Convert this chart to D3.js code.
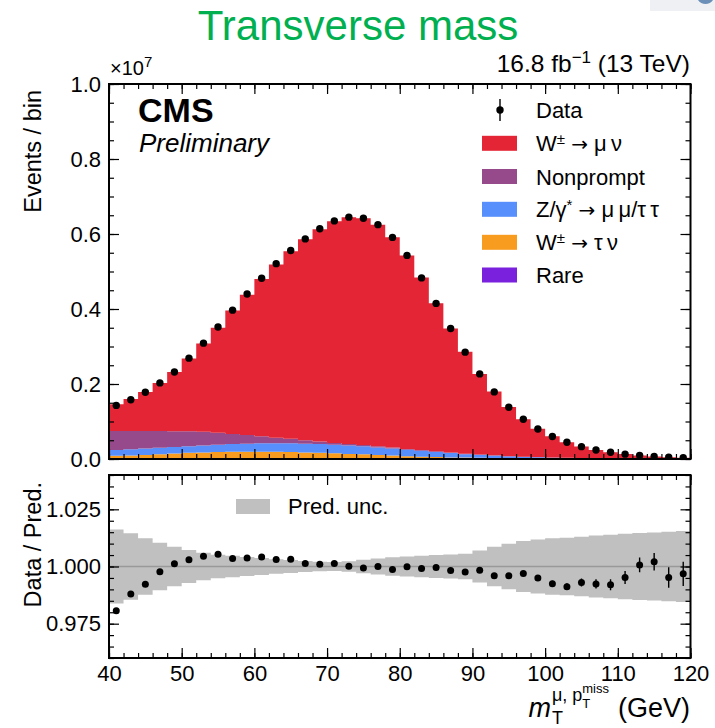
<!DOCTYPE html>
<html><head><meta charset="utf-8">
<script src="https://cdn.jsdelivr.net/npm/d3@7"></script>
<style>
body{margin:0;background:#fff}
svg{display:block}
text{font-family:"Liberation Sans",Arial,Helvetica,sans-serif;fill:#000}
</style>
</head><body>
<svg id="chart" width="715" height="728"></svg>
<script>
// ---------------- DATA ----------------
const binEdges = [40,42,44,46,48,50,52,54,56,58,60,62,64,66,68,70,72,74,76,78,80,82,84,86,88,90,92,94,96,98,100,102,104,106,108,110,112,114,116,118,120];

// Events / bin in units of 1e7
const dataVals = [0.143,0.158,0.178,0.203,0.232,0.269,0.309,0.352,0.397,0.440,0.482,0.521,0.556,0.587,0.614,0.635,0.645,0.642,0.625,0.591,0.543,0.483,0.415,0.348,0.285,0.227,0.179,0.138,0.106,0.080,0.060,0.0445,0.033,0.024,0.018,0.013,0.0095,0.0069,0.0050,0.0036];

const wmunu = [0.071,0.085,0.104,0.128,0.158,0.194,0.235,0.280,0.329,0.374,0.419,0.462,0.500,0.536,0.566,0.591,0.605,0.6045,0.591,0.561,0.516,0.460,0.395,0.331,0.272,0.215,0.170,0.131,0.100,0.0753,0.0565,0.0414,0.0303,0.0218,0.0161,0.0114,0.0080,0.0056,0.0040,0.0027];
const nonprompt = [0.051,0.049,0.047,0.045,0.042,0.040,0.037,0.032,0.027,0.023,0.019,0.015,0.012,0.009,0.007,0.005,0.004,0.0035,0.003,0.0025,0.002,0.0018,0.0015,0.0013,0.0011,0.001,0.0009,0.0008,0.0007,0.0006,0.0005,0.0005,0.0004,0.0004,0.0003,0.0003,0.0003,0.0002,0.0002,0.0002];
const zgamma = [0.0154,0.0164,0.0174,0.0174,0.0174,0.0174,0.0184,0.0194,0.0204,0.0214,0.0224,0.0224,0.0234,0.0235,0.0235,0.0225,0.0225,0.0216,0.0206,0.0186,0.0177,0.0157,0.0137,0.0118,0.0093,0.0078,0.0063,0.0049,0.0039,0.0032,0.0024,0.0021,0.0017,0.0013,0.0011,0.0009,0.0008,0.0006,0.0005,0.0004];
const wtaunu = [0.008,0.009,0.010,0.012,0.014,0.016,0.017,0.018,0.019,0.019,0.019,0.019,0.018,0.017,0.016,0.015,0.013,0.012,0.010,0.009,0.007,0.006,0.005,0.004,0.0035,0.003,0.0025,0.002,0.0015,0.0012,0.001,0.0008,0.0007,0.0006,0.0005,0.0004,0.0003,0.0003,0.0002,0.0002];
const rare = [0.0006,0.0006,0.0006,0.0006,0.0006,0.0006,0.0006,0.0006,0.0006,0.0006,0.0006,0.0006,0.0006,0.0005,0.0005,0.0005,0.0005,0.0004,0.0004,0.0004,0.0003,0.0003,0.0003,0.0002,0.0002,0.0002,0.0002,0.0001,0.0001,0.0001,0.0001,0.0001,0.0001,0.0001,0.0001,0.0001,0.0001,0.0001,0.0001,0.0001];

// Ratio panel
const ratioVals = [0.9807,0.9880,0.9922,0.9977,1.0012,1.0029,1.0045,1.0054,1.0035,1.0037,1.0041,1.0031,1.0032,1.0013,1.0010,1.0013,1.0001,0.9993,1.0000,0.9987,0.9999,0.9991,0.9996,0.9982,0.9976,0.9984,0.9960,0.9960,0.9969,0.9950,0.9925,0.9912,0.9930,0.9924,0.9920,0.9952,1.0007,1.0021,0.9952,0.9968];
const ratioErr = [0.0008,0.0008,0.00075,0.0007,0.00066,0.0006,0.00057,0.00053,0.0005,0.00048,0.00046,0.00044,0.00042,0.00041,0.0004,0.0004,0.00039,0.00039,0.0004,0.00041,0.00043,0.00046,0.00049,0.00054,0.00059,0.00066,0.00075,0.00085,0.00097,0.0011,0.0013,0.0015,0.0017,0.002,0.0024,0.0028,0.0032,0.0038,0.0045,0.0053];
const predUnc = [0.0162,0.0145,0.0124,0.0104,0.0086,0.0072,0.0060,0.0051,0.0047,0.0042,0.0037,0.0032,0.0028,0.0024,0.0021,0.0020,0.0023,0.0029,0.0035,0.0040,0.0044,0.0047,0.0050,0.0053,0.0056,0.0070,0.0086,0.0099,0.0111,0.0118,0.0123,0.0126,0.0130,0.0135,0.0139,0.0143,0.0146,0.0149,0.0152,0.0155];

// Tick labels
const xTicks = [40,50,60,70,80,90,100,110,120];
const mainYTicks = [0.0,0.2,0.4,0.6,0.8,1.0];
const ratioYTicks = [0.975,1.000,1.025];

// Legend (parts: [text, kind]) kind: 0 normal, 1 superscript, 2 arrow
const procKeys = ["rare","wtaunu","zgamma","nonprompt","wmunu"];
const procColors = {wmunu:"#e42536",nonprompt:"#964a8b",zgamma:"#5790fc",wtaunu:"#f89c20",rare:"#7a21dd"};
const legendEntries = [
  {key:"wmunu", parts:[["W",0],["\u00B1",1],[" ",0],["\u2192",2],[" \u03BC\u2009\u03BD",0]]},
  {key:"nonprompt", parts:[["Nonprompt",0]]},
  {key:"zgamma", parts:[["Z/\u03B3",0],["*",1],[" ",0],["\u2192",2],[" \u03BC\u2009\u03BC/\u03C4\u2009\u03C4",0]]},
  {key:"wtaunu", parts:[["W",0],["\u00B1",1],[" ",0],["\u2192",2],[" \u03C4\u2009\u03BD",0]]},
  {key:"rare", parts:[["Rare",0]]}
];

// ---------------- LAYOUT ----------------
const svg = d3.select("#chart");
const L = 109, R = 690.5;
const mainTop = 84, mainBot = 459, ratTop = 475, ratBot = 658;

const x = d3.scaleLinear().domain([40,120]).range([L,R]);
const y = d3.scaleLinear().domain([0,1]).range([mainBot,mainTop]);
const yr = d3.scaleLinear().domain([0.96,1.04]).range([ratBot,ratTop]);

// small screenshot artifact top-right
svg.append("rect").attr("x",650).attr("y",0).attr("width",65).attr("height",11).attr("fill","#eef0f3");
svg.append("path").attr("d","M698,0 A9,9 0 0,0 713,0 Z").attr("fill","#6c8fb8");

// Title
svg.append("text").attr("x",358).attr("y",40).attr("text-anchor","middle")
  .style("font-size","42px").style("fill","#00b050").text("Transverse mass");

// clip paths
const defs = svg.append("defs");
defs.append("clipPath").attr("id","clipMain").append("rect")
  .attr("x",L).attr("y",mainTop).attr("width",R-L).attr("height",mainBot-mainTop);
defs.append("clipPath").attr("id","clipRat").append("rect")
  .attr("x",L).attr("y",ratTop).attr("width",R-L).attr("height",ratBot-ratTop);

// ---------------- MAIN PANEL ----------------
const rows = binEdges.map((lo,i) => {
  const j = Math.min(i, dataVals.length-1);
  return {lo, rare:rare[j], wtaunu:wtaunu[j], zgamma:zgamma[j], nonprompt:nonprompt[j], wmunu:wmunu[j]};
});
const stacked = d3.stack().keys(procKeys)(rows);
const area = d3.area()
  .x(d => x(d.data.lo)).y0(d => y(d[0])).y1(d => y(d[1]))
  .curve(d3.curveStepAfter);

const gMain = svg.append("g").attr("clip-path","url(#clipMain)");
gMain.selectAll("path.layer").data(stacked).join("path")
  .attr("class","layer").attr("d",area).attr("fill",d => procColors[d.key]);

const centers = binEdges.slice(0,-1).map((lo,i) => (lo + binEdges[i+1]) / 2);

gMain.selectAll("circle.pt").data(dataVals).join("circle")
  .attr("class","pt").attr("cx",(d,i)=>x(centers[i])).attr("cy",d=>y(d)).attr("r",3.7).attr("fill","#000");

// ---------------- RATIO PANEL ----------------
const bandRows = binEdges.map((lo,i)=>({lo, u: predUnc[Math.min(i,predUnc.length-1)]}));
const band = d3.area().x(d=>x(d.lo)).y0(d=>yr(1-d.u)).y1(d=>yr(1+d.u)).curve(d3.curveStepAfter);
const gRat = svg.append("g").attr("clip-path","url(#clipRat)");
gRat.append("path").datum(bandRows).attr("d",band).attr("fill","#c0c0c0");
gRat.append("line").attr("x1",L).attr("x2",R).attr("y1",yr(1)).attr("y2",yr(1))
  .attr("stroke","#999").attr("stroke-width",1.5);
gRat.selectAll("line.err").data(ratioVals).join("line").attr("class","err")
  .attr("x1",(d,i)=>x(centers[i])).attr("x2",(d,i)=>x(centers[i]))
  .attr("y1",(d,i)=>yr(d-ratioErr[i])).attr("y2",(d,i)=>yr(d+ratioErr[i]))
  .attr("stroke","#000").attr("stroke-width",1.4);
gRat.selectAll("circle.rpt").data(ratioVals).join("circle").attr("class","rpt")
  .attr("cx",(d,i)=>x(centers[i])).attr("cy",d=>yr(d)).attr("r",3.5).attr("fill","#000");

// ---------------- AXES ----------------
const xMinor = d3.range(40,121,2);
function styleAxis(g){
  g.select(".domain").remove();
  g.selectAll(".tick line").attr("stroke","#000").attr("stroke-width",1.2);
  g.selectAll("text").style("font-size","22px").style("font-family",'"Liberation Sans",Arial,sans-serif');
}
function drawFrame(top, bot, ys, yMajor, yMinor, yFmt, xLabels){
  svg.append("g").attr("transform",`translate(0,${bot})`)
    .call(d3.axisBottom(x).tickValues(xTicks).tickSize(-10).tickPadding(7)
      .tickFormat(xLabels?d3.format("d"):() => ""))
    .call(styleAxis);
  svg.append("g").attr("transform",`translate(0,${bot})`)
    .call(d3.axisBottom(x).tickValues(xMinor).tickSize(-5).tickFormat(()=>"")).call(styleAxis);
  svg.append("g").attr("transform",`translate(0,${top})`)
    .call(d3.axisTop(x).tickValues(xTicks).tickSize(-10).tickFormat(()=>"")).call(styleAxis);
  svg.append("g").attr("transform",`translate(0,${top})`)
    .call(d3.axisTop(x).tickValues(xMinor).tickSize(-5).tickFormat(()=>"")).call(styleAxis);
  svg.append("g").attr("transform",`translate(${L},0)`)
    .call(d3.axisLeft(ys).tickValues(yMajor).tickSize(-10).tickPadding(8).tickFormat(yFmt)).call(styleAxis);
  svg.append("g").attr("transform",`translate(${L},0)`)
    .call(d3.axisLeft(ys).tickValues(yMinor).tickSize(-5).tickFormat(()=>"")).call(styleAxis);
  svg.append("g").attr("transform",`translate(${R},0)`)
    .call(d3.axisRight(ys).tickValues(yMajor).tickSize(-10).tickFormat(()=>"")).call(styleAxis);
  svg.append("g").attr("transform",`translate(${R},0)`)
    .call(d3.axisRight(ys).tickValues(yMinor).tickSize(-5).tickFormat(()=>"")).call(styleAxis);
  svg.append("rect").attr("x",L).attr("y",top).attr("width",R-L).attr("height",bot-top)
    .attr("fill","none").attr("stroke","#000").attr("stroke-width",2);
}
drawFrame(mainTop, mainBot, y, mainYTicks, d3.range(0,1.001,0.05), d3.format(".1f"), false);
drawFrame(ratTop, ratBot, yr, ratioYTicks, d3.range(0.96,1.0401,0.005), d3.format(".3f"), true);

// ---------------- TEXTS ----------------
const mult = svg.append("text").attr("x",110).attr("y",75).style("font-size","20px");
mult.append("tspan").text("\u00D710");
mult.append("tspan").attr("dy",-8).style("font-size","15px").text("7");

const lumi = svg.append("text").attr("x",690).attr("y",72).attr("text-anchor","end").style("font-size","24.5px");
lumi.append("tspan").text("16.8 fb");
lumi.append("tspan").attr("dy",-9).style("font-size","17px").text("\u22121");
lumi.append("tspan").attr("dy",9).text(" (13 TeV)");

svg.append("text").attr("x",138).attr("y",122).style("font-size","34px").style("font-weight","bold").text("CMS");
svg.append("text").attr("x",139).attr("y",152).style("font-size","26px").style("font-style","italic").text("Preliminary");

svg.append("text").attr("transform","translate(41,90) rotate(-90)").attr("text-anchor","end")
  .style("font-size","23.5px").text("Events / bin");
svg.append("text").attr("transform","translate(41,482) rotate(-90)").attr("text-anchor","end")
  .style("font-size","23.5px").text("Data / Pred.");

// x label
const xl = svg.append("g");
const t1 = xl.append("text").attr("x",0).attr("y",717).style("font-size","27px").style("font-style","italic").text("m");
const wm = t1.node().getComputedTextLength();
xl.append("text").attr("x",wm+1).attr("y",724).style("font-size","18px").text("T");
const t3 = xl.append("text").attr("x",wm+1).attr("y",701).style("font-size","18px").text("\u03BC, p");
const wmu = t3.node().getComputedTextLength();
xl.append("text").attr("x",wm+1+wmu).attr("y",708).style("font-size","13px").text("T");
const t5 = xl.append("text").attr("x",wm+1+wmu).attr("y",693).style("font-size","13px").text("miss");
const wmiss = t5.node().getComputedTextLength();
const t6 = xl.append("text").attr("x",wm+1+wmu+wmiss+9).attr("y",717).style("font-size","27px").text("(GeV)");
const total = wm+1+wmu+wmiss+9+t6.node().getComputedTextLength();
xl.attr("transform",`translate(${690-total},0)`);

// Legend main
const lg = svg.append("g");
const rowY = [110,143.3,176.5,209.3,242.3,275];
lg.append("line").attr("x1",500).attr("x2",500).attr("y1",rowY[0]-11).attr("y2",rowY[0]+11).attr("stroke","#000").attr("stroke-width",1.4);
lg.append("circle").attr("cx",500).attr("cy",rowY[0]).attr("r",3.7).attr("fill","#000");
lg.append("text").attr("x",536).attr("y",rowY[0]+8).style("font-size","22px").text("Data");
legendEntries.forEach((e,i)=>{
  const cy = rowY[i+1];
  lg.append("rect").attr("x",482).attr("y",cy-7.5).attr("width",35).attr("height",15).attr("fill",procColors[e.key]);
  const t = lg.append("text").attr("x",536).attr("y",cy+8).style("font-size","22px");
  let prevSup = 0;
  e.parts.forEach(([s,kind])=>{
    const ts = t.append("tspan").text(s);
    if (kind === 1) ts.attr("dy",-7).style("font-size","15px");
    else if (prevSup) ts.attr("dy",7);
    if (kind === 2) ts.style("font-family","'DejaVu Sans',sans-serif").style("font-size","20px");
    prevSup = kind === 1 ? 1 : 0;
  });
});

// Legend ratio
svg.append("rect").attr("x",236).attr("y",499).attr("width",34).attr("height",15).attr("fill","#c0c0c0");
svg.append("text").attr("x",288).attr("y",514).style("font-size","22px").text("Pred. unc.");
</script>
</body></html>
